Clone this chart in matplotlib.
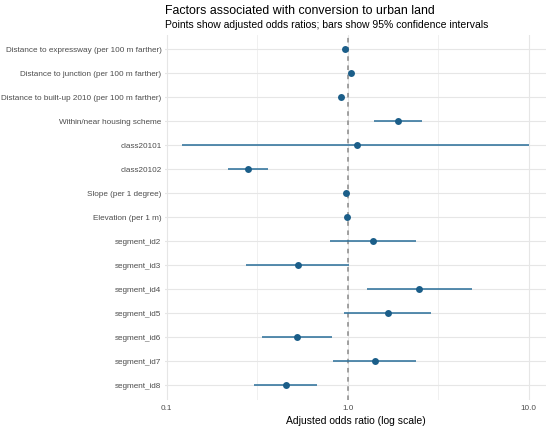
import numpy as np
import matplotlib
matplotlib.use("Agg")
import matplotlib.pyplot as plt

labels = [
    "Distance to expressway (per 100 m farther)",
    "Distance to junction (per 100 m farther)",
    "Distance to built-up 2010 (per 100 m farther)",
    "Within/near housing scheme",
    "class20101",
    "class20102",
    "Slope (per 1 degree)",
    "Elevation (per 1 m)",
    "segment_id2",
    "segment_id3",
    "segment_id4",
    "segment_id5",
    "segment_id6",
    "segment_id7",
    "segment_id8",
]
odds_ratio = [0.966, 1.04, 0.92, 1.89, 1.12, 0.28, 0.979, 0.99, 1.38, 0.53, 2.49, 1.66, 0.525, 1.41, 0.455]
ci_low = [0.955, 1.03, 0.905, 1.40, 0.122, 0.218, 0.970, 0.985, 0.80, 0.274, 1.27, 0.95, 0.336, 0.83, 0.305]
ci_high = [0.977, 1.05, 0.935, 2.57, 10.0, 0.363, 0.988, 0.995, 2.38, 1.01, 4.87, 2.88, 0.82, 2.38, 0.68]
x_ticks = [0.1, 1.0, 10.0]
x_tick_labels = ["0.1", "1.0", "10.0"]

plt.rcParams['font.family'] = ['Liberation Sans', 'DejaVu Sans']

fig = plt.figure(figsize=(5.5, 4.28), dpi=100)
ax = fig.add_axes([0.30, 1 - 399.5 / 428, 0.993 - 0.30, (399.5 - 35) / 428])

y = np.arange(len(labels))
point_col = "#1b5e89"
line_col = "#30729c"

ax.axvline(1.0, color="#8a8a8a", linestyle=(0, (3, 3)), linewidth=1.1, zorder=2)
ax.hlines(y, ci_low, ci_high, color=line_col, linewidth=1.15, zorder=3)
ax.plot(odds_ratio, y, 'o', color=point_col, markersize=5.0, markeredgewidth=0, zorder=4)

ax.set_xscale('log')
lo = np.log10(min(ci_low))
hi = np.log10(max(ci_high))
pad = 0.05 * (hi - lo)
ax.set_xlim(10 ** (lo - pad), 10 ** (hi + pad))
ax.set_ylim(len(labels) - 1 + 0.6, -0.6)

ax.set_xticks(x_ticks)
ax.set_xticklabels(x_tick_labels)
minor = [10 ** (np.log10(x_ticks[i]) + 0.5) for i in range(len(x_ticks) - 1)]
ax.set_xticks(minor, minor=True)
ax.set_xticklabels([], minor=True)
ax.set_yticks(y)
ax.set_yticklabels(labels)

ax.grid(True, which='major', axis='both', color="#e6e6e6", linewidth=0.8, zorder=0)
ax.grid(True, which='minor', axis='x', color="#eeeeee", linewidth=0.6, zorder=0)
ax.set_axisbelow(True)
for s in ax.spines.values():
    s.set_visible(False)
ax.tick_params(axis='both', which='both', length=0, labelsize=5.85, labelcolor="#4d4d4d", pad=2.5)
ax.tick_params(axis='x', pad=4)

ax.set_xlabel("Adjusted odds ratio (log scale)", fontsize=7.5, color="black", labelpad=2.5)

fig.text(0.30, 1 - 13.5 / 428, "Factors associated with conversion to urban land",
         fontsize=8.9, color="black", va='baseline', ha='left')
fig.text(0.30, 1 - 28 / 428, "Points show adjusted odds ratios; bars show 95% confidence intervals",
         fontsize=7.5, color="black", va='baseline', ha='left')

fig.savefig("out.png", dpi=100, facecolor="white")
